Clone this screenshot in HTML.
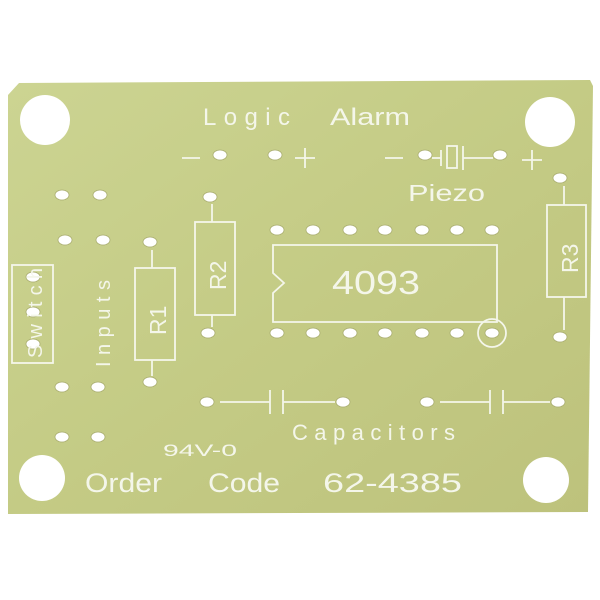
<!DOCTYPE html>
<html><head><style>
html,body{margin:0;padding:0;background:#fff;width:600px;height:600px;overflow:hidden}
svg{display:block}
text{font-family:"Liberation Sans","DejaVu Sans",sans-serif;fill:#f4f6ea}
</style></head><body>
<svg width="600" height="600" viewBox="0 0 600 600">
<defs>
<linearGradient id="g" x1="0" y1="0" x2="1" y2="1">
<stop offset="0" stop-color="#ccd492"/><stop offset="0.5" stop-color="#c4cb85"/><stop offset="1" stop-color="#bdc27c"/>
</linearGradient>
</defs>
<polygon points="8,95 19,83 590,80 593,86 588,512 8,514" fill="url(#g)"/>
<g fill="#fff">
<circle cx="45" cy="120" r="25"/><circle cx="550" cy="122" r="25"/>
<circle cx="42" cy="478" r="23"/><circle cx="546" cy="480" r="23"/>
</g>
<g fill="#fff" stroke="#a9ad70" stroke-width="0.8">
<ellipse cx="220" cy="155" rx="7" ry="5"/><ellipse cx="275" cy="155" rx="7" ry="5"/>
<ellipse cx="425" cy="155" rx="7" ry="5"/><ellipse cx="500" cy="155" rx="7" ry="5"/>
<ellipse cx="62" cy="195" rx="7" ry="5"/><ellipse cx="100" cy="195" rx="7" ry="5"/>
<ellipse cx="65" cy="240" rx="7" ry="5"/><ellipse cx="103" cy="240" rx="7" ry="5"/>
<ellipse cx="150" cy="242" rx="7" ry="5"/><ellipse cx="150" cy="382" rx="7" ry="5"/>
<ellipse cx="33" cy="277" rx="7" ry="5"/><ellipse cx="33" cy="312" rx="7" ry="5"/><ellipse cx="33" cy="344" rx="7" ry="5"/>
<ellipse cx="62" cy="387" rx="7" ry="5"/><ellipse cx="98" cy="387" rx="7" ry="5"/>
<ellipse cx="62" cy="437" rx="7" ry="5"/><ellipse cx="98" cy="437" rx="7" ry="5"/>
<ellipse cx="210" cy="197" rx="7" ry="5"/><ellipse cx="208" cy="333" rx="7" ry="5"/>
<ellipse cx="560" cy="178" rx="7" ry="5"/><ellipse cx="560" cy="337" rx="7" ry="5"/>
<ellipse cx="277" cy="230" rx="7" ry="5"/><ellipse cx="313" cy="230" rx="7" ry="5"/><ellipse cx="350" cy="230" rx="7" ry="5"/><ellipse cx="385" cy="230" rx="7" ry="5"/><ellipse cx="422" cy="230" rx="7" ry="5"/><ellipse cx="457" cy="230" rx="7" ry="5"/><ellipse cx="492" cy="230" rx="7" ry="5"/>
<ellipse cx="277" cy="333" rx="7" ry="5"/><ellipse cx="313" cy="333" rx="7" ry="5"/><ellipse cx="350" cy="333" rx="7" ry="5"/><ellipse cx="385" cy="333" rx="7" ry="5"/><ellipse cx="422" cy="333" rx="7" ry="5"/><ellipse cx="457" cy="333" rx="7" ry="5"/><ellipse cx="492" cy="333" rx="7" ry="5"/>
<ellipse cx="207" cy="402" rx="7" ry="5"/><ellipse cx="343" cy="402" rx="7" ry="5"/>
<ellipse cx="427" cy="402" rx="7" ry="5"/><ellipse cx="558" cy="402" rx="7" ry="5"/>
</g>
<g fill="none" stroke="#f4f6ea" stroke-width="1.8">
<rect x="12" y="265" width="41" height="98"/>
<rect x="135" y="268" width="40" height="92"/><line x1="152" y1="250" x2="152" y2="268"/><line x1="152" y1="360" x2="152" y2="376"/>
<rect x="195" y="222" width="40" height="93"/><line x1="212" y1="204" x2="212" y2="222"/><line x1="212" y1="315" x2="212" y2="327"/>
<rect x="547" y="205" width="39" height="92"/><line x1="564" y1="186" x2="564" y2="205"/><line x1="564" y1="297" x2="564" y2="330"/>
<path d="M273,245 H497 V322 H273 V293 L284,283 L273,273 Z"/>
<circle cx="492" cy="333" r="14"/>
<line x1="182" y1="158" x2="200" y2="158"/><line x1="295" y1="158" x2="315" y2="158"/><line x1="305" y1="148" x2="305" y2="168"/>
<line x1="385" y1="158" x2="403" y2="158"/><line x1="522" y1="160" x2="542" y2="160"/><line x1="532" y1="150" x2="532" y2="170"/>
<line x1="432" y1="158" x2="441" y2="158"/><line x1="441" y1="150" x2="441" y2="166"/>
<rect x="447" y="146" width="10" height="22"/>
<line x1="463" y1="146" x2="463" y2="170"/><line x1="463" y1="158" x2="493" y2="158"/>
<line x1="220" y1="402" x2="270" y2="402"/><line x1="270" y1="390" x2="270" y2="414"/><line x1="283" y1="390" x2="283" y2="414"/><line x1="283" y1="402" x2="335" y2="402"/>
<line x1="440" y1="402" x2="490" y2="402"/><line x1="490" y1="390" x2="490" y2="414"/><line x1="503" y1="390" x2="503" y2="414"/><line x1="503" y1="402" x2="550" y2="402"/>
</g>
<text x="203" y="125" font-size="24" textLength="87">Logic</text>
<text x="330" y="125" font-size="24" textLength="80" lengthAdjust="spacingAndGlyphs">Alarm</text>
<text x="408" y="201" font-size="23" textLength="77" lengthAdjust="spacingAndGlyphs">Piezo</text>
<text x="332" y="294" font-size="33" textLength="88" lengthAdjust="spacingAndGlyphs">4093</text>
<text transform="translate(166,335) rotate(-90)" font-size="23">R1</text>
<text transform="translate(226,290) rotate(-90)" font-size="23">R2</text>
<text transform="translate(578,273) rotate(-90)" font-size="23">R3</text>
<text transform="translate(110,367) rotate(-90)" font-size="20" textLength="87">Inputs</text>
<text transform="translate(42,358) rotate(-90)" font-size="20" textLength="90">Switch</text>
<text x="292" y="440" font-size="22" textLength="163">Capacitors</text>
<text x="163" y="456" font-size="17" textLength="74" lengthAdjust="spacingAndGlyphs">94V-0</text>
<text x="85" y="492" font-size="27" textLength="77" lengthAdjust="spacingAndGlyphs">Order</text>
<text x="208" y="492" font-size="27" textLength="72" lengthAdjust="spacingAndGlyphs">Code</text>
<text x="323" y="492" font-size="27" textLength="139" lengthAdjust="spacingAndGlyphs">62-4385</text>
</svg>
</body></html>
